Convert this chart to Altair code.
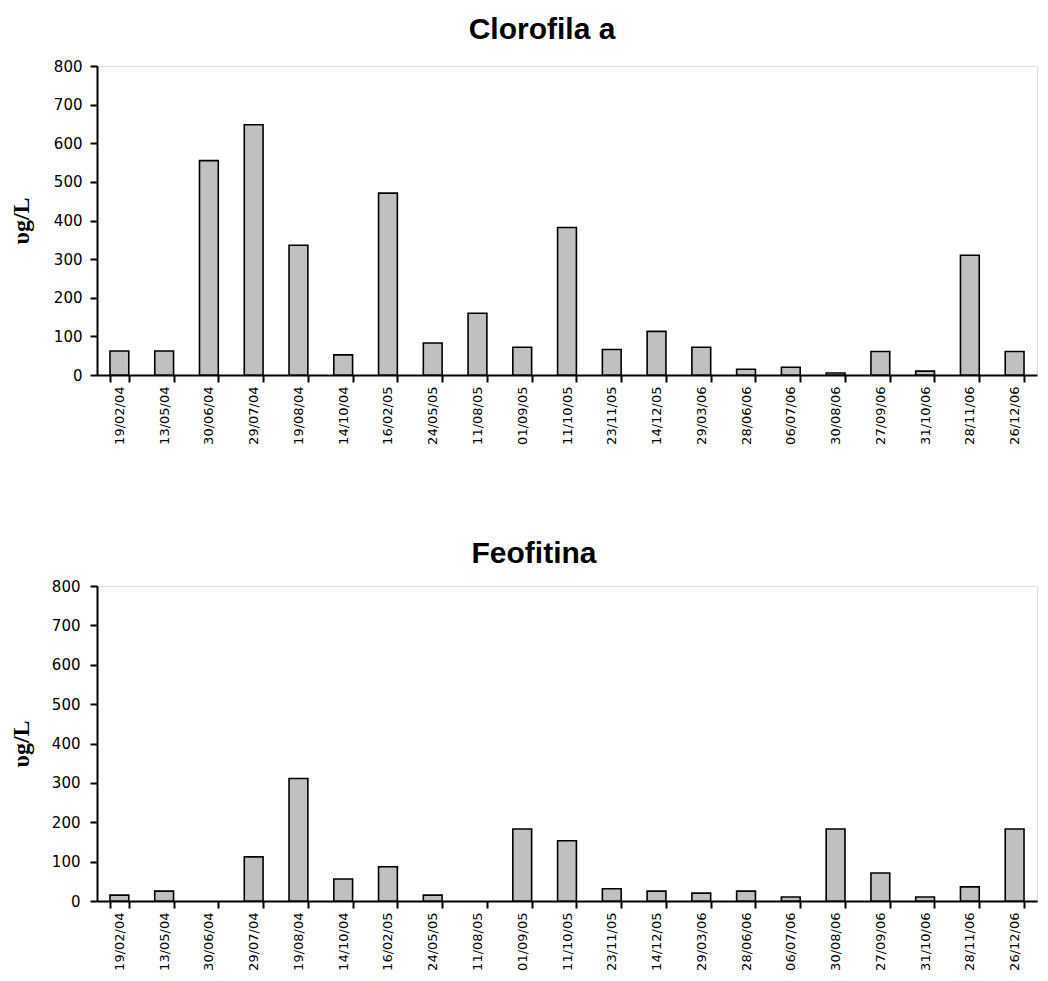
import altair as alt
import pandas as pd

dates = ["19/02/04", "13/05/04", "30/06/04", "29/07/04", "19/08/04", "14/10/04", "16/02/05",
         "24/05/05", "11/08/05", "01/09/05", "11/10/05", "23/11/05", "14/12/05", "29/03/06",
         "28/06/06", "06/07/06", "30/08/06", "27/09/06", "31/10/06", "28/11/06", "26/12/06"]
clorofila = [62, 62, 555, 648, 336, 52, 471, 83, 160, 72, 382, 66, 113, 72, 15, 20, 5, 61, 10, 310, 61]
feofitina = [15, 25, 0, 112, 311, 56, 87, 15, 0, 183, 153, 31, 25, 20, 25, 10, 183, 71, 10, 36, 183]

df1 = pd.DataFrame({"fecha": dates, "valor": clorofila})
df2 = pd.DataFrame({"fecha": dates, "valor": feofitina})

TITLE_FONT = "Liberation Sans"
LABEL_FONT = "DejaVu Sans"


def panel(df, title, w, h, title_pad, label_pad, title_offset, title_dx):
    return alt.Chart(df, title=alt.TitleParams(title, fontSize=30, font=TITLE_FONT, fontWeight="bold",
                                              color="black", offset=title_offset, dx=title_dx)).mark_bar(
        color="#c0c0c0", stroke="black", strokeWidth=1.6
    ).encode(
        x=alt.X("fecha:N", sort=dates, title=None,
                scale=alt.Scale(paddingInner=0.58, paddingOuter=0.29),
                axis=alt.Axis(labelAngle=270, labelFontSize=13, labelFont=LABEL_FONT, labelColor="black",
                              tickBand="extent", tickSize=7, tickColor="black", domainColor="black",
                              domainWidth=2, tickWidth=2, labelPadding=4)),
        y=alt.Y("valor:Q", title="υg/L",
                scale=alt.Scale(domain=[0, 800], nice=False),
                axis=alt.Axis(values=list(range(0, 801, 100)), grid=False, labelFontSize=15,
                              labelFont=LABEL_FONT, labelColor="black", tickSize=7, tickColor="black",
                              domainColor="black", domainWidth=2, tickWidth=2,
                              titleFont="Liberation Serif", titleFontSize=24, titleFontWeight="bold",
                              titleColor="black", titlePadding=title_pad, labelPadding=label_pad)),
        strokeOpacity=alt.condition("datum.valor > 0", alt.value(1), alt.value(0)),
    ).properties(width=w, height=h)


chart = alt.concat(
    panel(df1, "Clorofila a", 940, 309, 20, 8, 14, -25),
    panel(df2, "Feofitina", 940, 315, 18, 10, 10, -33),
    columns=1,
    align="none",
    spacing=93,
).properties(
    padding={"left": 0, "top": 6, "right": 0, "bottom": 0}
).configure_view(strokeWidth=0).configure(background="white")

chart.save("out.html", embed_options={"renderer": "svg", "actions": False})
